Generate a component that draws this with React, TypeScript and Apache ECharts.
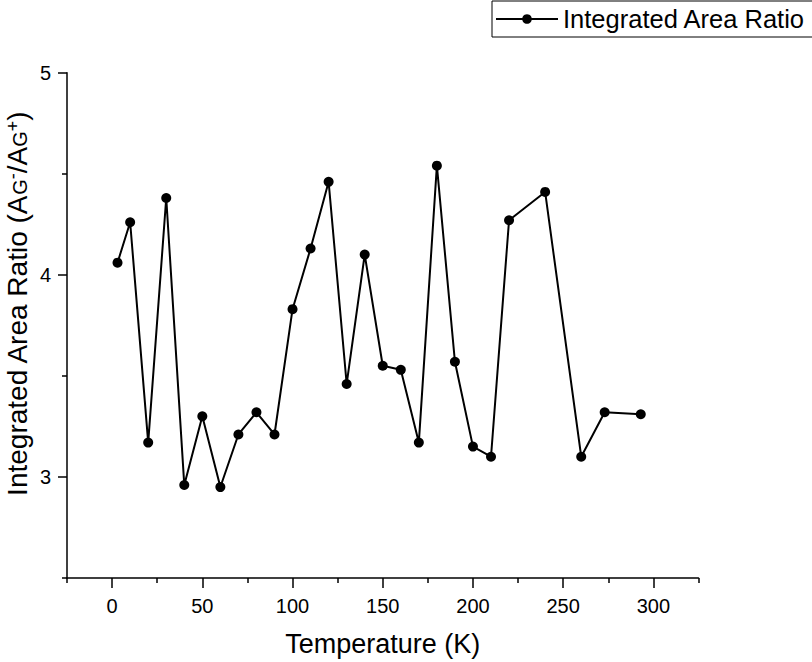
import React, { useEffect, useRef } from "react";
import * as echarts from "echarts";

const temperatures = [3, 10, 20, 30, 40, 50, 60, 70, 80, 90, 100, 110, 120, 130, 140, 150, 160, 170, 180, 190, 200, 210, 220, 240, 260, 273, 293];
const ratios = [4.06, 4.26, 3.17, 4.38, 2.96, 3.30, 2.95, 3.21, 3.32, 3.21, 3.83, 4.13, 4.46, 3.46, 4.10, 3.55, 3.53, 3.17, 4.54, 3.57, 3.15, 3.10, 4.27, 4.41, 3.10, 3.32, 3.31];
const xMajorTicks = [0, 50, 100, 150, 200, 250, 300];
const xMinorTicks = [-25, 25, 75, 125, 175, 225, 275, 325];
const yMajorTicks = [3, 4, 5];
const yMinorTicks = [2.5, 3.5, 4.5];
const seriesName = "Integrated Area Ratio";
const xTitle = "Temperature (K)";

const FONT = "'Liberation Sans', Arial, Helvetica, sans-serif";

export default function App() {
  const ref = useRef<HTMLDivElement>(null);
  useEffect(() => {
    if (!ref.current) return;
    const chart = echarts.init(ref.current, null, { renderer: "svg" });
    const data = temperatures.map((t, i) => [t, ratios[i]]);
    const axisLine = { show: true, onZero: false, lineStyle: { color: "#000", width: 1.5 } };
    chart.setOption({
      animation: false,
      backgroundColor: "#fff",
      textStyle: { fontFamily: FONT, color: "#000" },
      grid: { left: 67, top: 72.7, right: 113.5, bottom: 81, containLabel: false },
      legend: {
        data: [seriesName],
        left: 492,
        top: 1,
        padding: [5, 30, 5, 3],
        borderColor: "#000",
        borderWidth: 1,
        itemWidth: 62,
        itemHeight: 12,
        itemGap: 0,
        textStyle: { fontSize: 25.5, color: "#000", fontFamily: FONT },
      },
      xAxis: [
        {
          type: "value",
          position: "bottom",
          min: -25,
          max: 325,
          axisLine,
          splitLine: { show: false },
          axisTick: { show: true, customValues: xMajorTicks, length: 10, inside: false, lineStyle: { color: "#000", width: 1.5 } },
          axisLabel: { show: true, customValues: xMajorTicks, fontSize: 20, color: "#000", margin: 18, fontFamily: FONT },
          name: xTitle,
          nameLocation: "middle",
          nameGap: 52,
          nameTextStyle: { fontSize: 27, color: "#000", fontFamily: FONT },
        },
        {
          type: "value",
          position: "bottom",
          min: -25,
          max: 325,
          axisLine: { show: false, onZero: false },
          splitLine: { show: false },
          axisTick: { show: true, customValues: xMinorTicks, length: 5, inside: false, lineStyle: { color: "#000", width: 1.5 } },
          axisLabel: { show: false },
        },
      ],
      yAxis: [
        {
          type: "value",
          position: "left",
          min: 2.5,
          max: 5,
          axisLine,
          splitLine: { show: false },
          axisTick: { show: true, customValues: yMajorTicks, length: 9, inside: false, lineStyle: { color: "#000", width: 1.5 } },
          axisLabel: { show: true, customValues: yMajorTicks, fontSize: 20, color: "#000", margin: 16, fontFamily: FONT },
        },
        {
          type: "value",
          position: "left",
          min: 2.5,
          max: 5,
          axisLine: { show: false, onZero: false },
          splitLine: { show: false },
          axisTick: { show: true, customValues: yMinorTicks, length: 5, inside: false, lineStyle: { color: "#000", width: 1.5 } },
          axisLabel: { show: false },
        },
      ],
      graphic: [
        {
          type: "text",
          x: 17,
          y: 304,
          rotation: Math.PI / 2,
          style: {
            text: "Integrated Area Ratio (A{sub|G}{sup|-}/A{sub|G}{sup|+})",
            fontSize: 28,
            fontFamily: FONT,
            fill: "#000",
            align: "center",
            verticalAlign: "middle",
            lineHeight: 26,
            rich: {
              sub: { fontSize: 20, lineHeight: 10, verticalAlign: "bottom", fontFamily: FONT, fill: "#000" },
              sup: { fontSize: 18, lineHeight: 14, verticalAlign: "top", fontFamily: FONT, fill: "#000" },
            },
          },
        },
      ],
      series: [
        {
          name: seriesName,
          type: "line",
          xAxisIndex: 0,
          yAxisIndex: 0,
          data,
          symbol: "circle",
          symbolSize: 10,
          showSymbol: true,
          lineStyle: { color: "#000", width: 2 },
          itemStyle: { color: "#000" },
        },
      ],
    });
    return () => chart.dispose();
  }, []);
  return <div ref={ref} style={{ position: "fixed", left: 0, top: 0, width: 812, height: 662 }} />;
}
